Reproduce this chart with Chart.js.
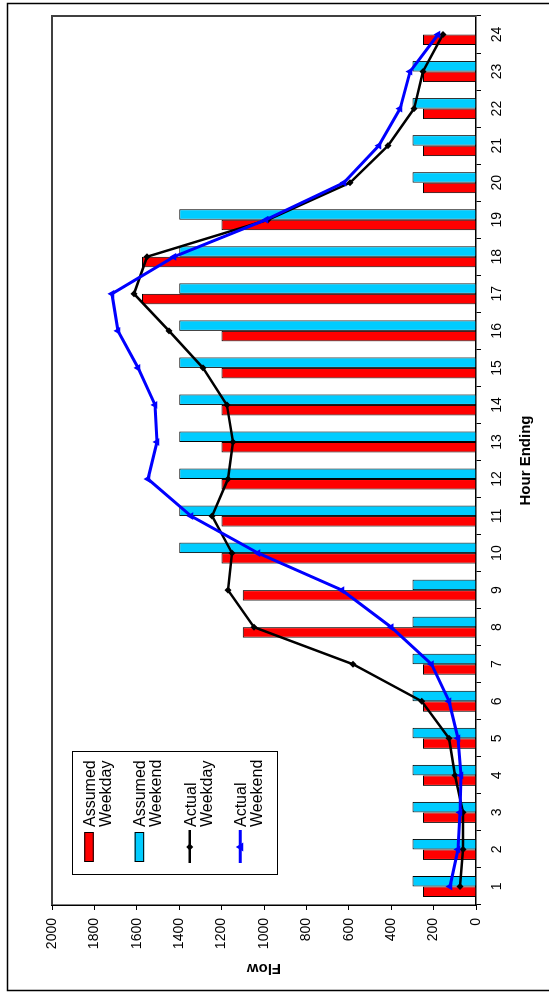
<!DOCTYPE html>
<html><head><meta charset="utf-8">
<script src="https://cdn.jsdelivr.net/npm/chart.js@4.4.1/dist/chart.umd.min.js"></script>
<style>
html,body{margin:0;padding:0;background:#fff;overflow:hidden;width:549px;height:992px;}
#wrap{position:absolute;left:0;top:0;width:992px;height:549px;transform-origin:0 0;transform:translate(0,992px) rotate(-90deg);background:#fff;}
canvas{display:block;}
</style></head><body>
<div id="wrap"><canvas id="c" width="992" height="549"></canvas></div>
<script>
const hours = ['1','2','3','4','5','6','7','8','9','10','11','12','13','14','15','16','17','18','19','20','21','22','23','24'];
const assumedWeekday = [250,250,250,250,250,250,250,1100,1100,1200,1200,1200,1200,1200,1200,1200,1575,1575,1200,250,250,250,250,250];
const assumedWeekend = [300,300,300,300,300,300,300,300,300,1400,1400,1400,1400,1400,1400,1400,1400,1400,1400,300,300,300,300,null];
const actualWeekday = [75,61,61,99,127,256,580,1047,1170,1151,1245,1170,1146,1175,1288,1448,1613,1552,981,594,415,292,250,156];
const actualWeekend = [123,85,75,71,85,127,210,400,632,1028,1344,1547,1505,1514,1594,1689,1717,1425,991,623,458,358,311,179];
const flowMin = 0, flowMax = 2000, flowStep = 200;
const seriesNames = ['Assumed Weekday','Assumed Weekend','Actual Weekday','Actual Weekend'];
const FONT = "'Liberation Sans', Arial, sans-serif";

const framePlugin = {
  id:'frame',
  beforeDatasetsDraw(chart){
    const {ctx, chartArea:a} = chart;
    ctx.save();
    ctx.strokeStyle = '#404040'; ctx.lineWidth = 2;
    ctx.beginPath();
    ctx.moveTo(a.left, a.top); ctx.lineTo(a.right, a.top); ctx.lineTo(a.right, a.bottom);
    ctx.stroke();
    ctx.restore();
  },
  afterDraw(chart){
    const ctx = chart.ctx;
    ctx.save();
    ctx.strokeStyle = '#000'; ctx.lineWidth = 1.5;
    ctx.strokeRect(1.5, 7.5, 987, 546);
    ctx.restore();
  }
};

const legendPlugin = {
  id:'boxLegend',
  afterDraw(chart){
    const ctx = chart.ctx;
    const ds = chart.data.datasets;
    ctx.save();
    ctx.fillStyle = '#fff'; ctx.fillRect(117, 72, 123, 205);
    ctx.strokeStyle = '#000'; ctx.lineWidth = 1; ctx.strokeRect(117.5, 72.5, 123, 205);
    ds.forEach((d, i) => {
      const cy = 89 + i * 50.4;
      if (d.type === 'bar') {
        ctx.fillStyle = d.backgroundColor;
        ctx.fillRect(130, cy - 4.75, 30, 9.5);
        ctx.strokeStyle = '#000'; ctx.lineWidth = 1;
        ctx.strokeRect(130.5, cy - 4.25, 29, 8.5);
      } else {
        ctx.strokeStyle = d.borderColor; ctx.lineWidth = d.borderWidth;
        ctx.beginPath(); ctx.moveTo(129, cy); ctx.lineTo(162, cy); ctx.stroke();
        ctx.fillStyle = d.borderColor;
        const r = d.pointRadius;
        ctx.beginPath();
        if (d.pointStyle === 'rectRot') {
          ctx.moveTo(145, cy - r); ctx.lineTo(145 + r, cy); ctx.lineTo(145, cy + r); ctx.lineTo(145 - r, cy);
        } else {
          ctx.moveTo(145, cy - r); ctx.lineTo(145 + r, cy + r * 0.7); ctx.lineTo(145 - r, cy + r * 0.7);
        }
        ctx.closePath(); ctx.fill();
      }
      const words = d.label.split(' ');
      ctx.fillStyle = '#000';
      ctx.font = '16px ' + FONT;
      ctx.textAlign = 'left'; ctx.textBaseline = 'alphabetic';
      ctx.fillText(words[0], 165, cy + 6);
      ctx.fillText(words[1], 165, cy + 21.7);
    });
    ctx.restore();
  }
};

new Chart(document.getElementById('c'), {
  type: 'bar',
  data: {
    labels: hours,
    datasets: [
      {type:'bar', label:seriesNames[0], data:assumedWeekday, backgroundColor:'#FF0000', borderColor:'#000', borderWidth:1, order:2, categoryPercentage:0.567, barPercentage:1},
      {type:'bar', label:seriesNames[1], data:assumedWeekend, backgroundColor:'#00CCFF', borderColor:'#000', borderWidth:1, order:2, categoryPercentage:0.567, barPercentage:1},
      {type:'line', label:seriesNames[2], data:actualWeekday, borderColor:'#000000', backgroundColor:'#000000', borderWidth:2.5, pointStyle:'rectRot', pointRadius:3.5, pointBorderWidth:0, tension:0, order:1},
      {type:'line', label:seriesNames[3], data:actualWeekend, borderColor:'#0000FF', backgroundColor:'#0000FF', borderWidth:3, pointStyle:'triangle', pointRadius:4.5, pointBorderWidth:0, tension:0, order:0}
    ]
  },
  options: {
    responsive:false, animation:false, devicePixelRatio:1,
    layout:{padding:{left:0,right:16,top:52,bottom:0}},
    plugins:{legend:{display:false}, tooltip:{enabled:false}},
    scales:{
      x:{
        offset:true,
        grid:{display:true, drawOnChartArea:false, drawTicks:true, tickLength:5, tickColor:'#000', tickWidth:1, offset:true},
        border:{display:true, color:'#000', width:1.5},
        ticks:{color:'#000', font:{family:FONT, size:14}, padding:8, maxRotation:0, minRotation:0, autoSkip:false},
        title:{display:true, text:'Hour Ending', color:'#000', font:{family:FONT, size:15, weight:'bold'}, padding:{top:0, bottom:14}},
        afterFit(s){ s.height = 73; }
      },
      y:{
        min:flowMin, max:flowMax,
        grid:{display:true, drawOnChartArea:false, drawTicks:true, tickLength:5, tickColor:'#000', tickWidth:1},
        border:{display:true, color:'#000', width:1.5},
        ticks:{stepSize:flowStep, color:'#000', font:{family:FONT, size:14}, padding:8, callback:(v)=>String(v)},
        title:{display:true, text:'Flow', color:'#000', font:{family:FONT, size:15, weight:'bold'}, padding:{top:15, bottom:0}},
        afterFit(s){ s.width = 87; }
      }
    }
  },
  plugins:[framePlugin, legendPlugin]
});
</script>
</body></html>
